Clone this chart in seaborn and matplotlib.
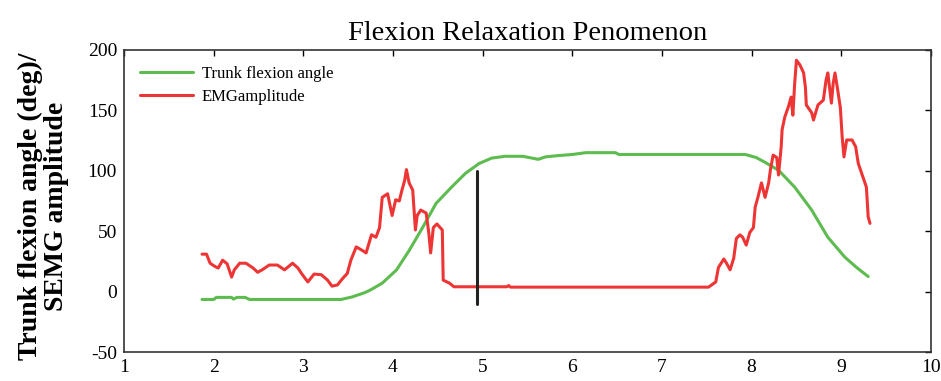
import matplotlib
matplotlib.use("Agg")
import matplotlib.pyplot as plt
import seaborn as sns
import pandas as pd

# trunk flexion angle (green)
angle_t = [1.87, 2.00, 2.03, 2.20, 2.22, 2.26, 2.35, 2.40, 3.00, 3.42, 3.54, 3.68, 3.74,
           3.88, 4.04, 4.18, 4.33, 4.48, 4.66, 4.81, 4.96, 5.10, 5.25, 5.45, 5.55, 5.62,
           5.70, 5.83, 6.00, 6.15, 6.48, 6.52, 7.00, 7.93, 8.05, 8.15, 8.30, 8.48, 8.67,
           8.85, 9.04, 9.17, 9.30]
angle_v = [-6.5, -6.5, -4.8, -4.8, -6.2, -4.8, -4.8, -6.5, -6.5, -6.5, -4.5, -1, 1,
           7, 18, 34, 53, 73, 87, 98, 106, 110.5, 112, 112, 110.5, 109.5,
           111.5, 112.5, 113.5, 115, 115, 113.5, 113.5, 113.5, 111, 107, 100.5, 86.5, 67.5,
           45, 28.5, 20, 12.5]

# EMG amplitude (red)
emg_t = [1.87, 1.92, 1.96, 2.01, 2.05, 2.10, 2.15, 2.20, 2.23, 2.29, 2.36, 2.44, 2.49,
         2.54, 2.62, 2.71, 2.79, 2.88, 2.94, 2.98, 3.05, 3.12, 3.20, 3.27, 3.32, 3.38,
         3.44, 3.49, 3.53, 3.59, 3.66, 3.70, 3.76, 3.81, 3.85, 3.88, 3.94, 3.99, 4.03,
         4.07, 4.10, 4.13, 4.15, 4.18, 4.22, 4.25, 4.27, 4.31, 4.37, 4.40, 4.42, 4.45,
         4.49, 4.55, 4.56, 4.63, 4.68, 5.27, 5.29, 5.31, 7.52, 7.60, 7.63, 7.69, 7.72,
         7.76, 7.80, 7.83, 7.87, 7.90, 7.94, 7.98, 8.02, 8.04, 8.07, 8.11, 8.15, 8.19,
         8.21, 8.24, 8.28, 8.30, 8.33, 8.34, 8.37, 8.41, 8.44, 8.46, 8.48, 8.50, 8.54,
         8.58, 8.60, 8.61, 8.67, 8.69, 8.74, 8.80, 8.83, 8.85, 8.89, 8.91, 8.93, 8.96,
         8.99, 9.01, 9.03, 9.06, 9.12, 9.16, 9.19, 9.28, 9.30, 9.32]
emg_v = [31, 31, 23.5, 21, 19.5, 26, 23, 12, 18, 23.5, 23.5, 19.5, 16,
         18, 22, 22, 18, 23.5, 19.5, 15, 8, 14.5, 14, 9.5, 4.5, 5.5,
         11, 15, 26, 37, 34, 32, 47, 45, 53, 78, 81, 63, 76,
         75, 84, 92, 101, 90, 84, 51, 63, 67.5, 65, 48, 32, 53,
         56, 51, 9.5, 7, 4, 4, 5, 3.7, 3.7, 8, 20, 27, 23.5,
         18, 27.5, 44, 47, 45, 38.5, 49, 53, 70, 78, 90, 78, 90,
         101, 113, 111, 96.5, 120, 134, 144.5, 153, 161, 146, 172, 191.5, 187.5,
         181, 169, 154.5, 148, 142, 154.5, 158.5, 175, 181, 156, 172.5, 181, 167,
         152, 128, 111.5, 125.5, 125.5, 120, 106, 86.5, 62, 56.5]

# marker line at onset of relaxation
marker_t = [4.94, 4.94]
marker_v = [-10, 100]

x_ticks = list(range(1, 11))
y_ticks = [-50, 0, 50, 100, 150, 200]

sns.set_style("white")
plt.rcParams['font.family'] = ['Liberation Serif', 'DejaVu Serif']
plt.rcParams['axes.unicode_minus'] = False
plt.rcParams['text.color'] = 'black'
plt.rcParams['axes.labelcolor'] = 'black'

df_angle = pd.DataFrame({"t": angle_t, "v": angle_v})
df_emg = pd.DataFrame({"t": emg_t, "v": emg_v})
df_mark = pd.DataFrame({"t": marker_t, "v": marker_v})

fig = plt.figure(figsize=(9.41, 3.81), dpi=100)
ax = fig.add_axes([0.1318, 0.0761, 0.8575, 0.7927])

sns.lineplot(data=df_angle, x="t", y="v", ax=ax, color="#5dbb4f", linewidth=2.2,
             estimator=None, sort=False, label="Trunk flexion angle")
sns.lineplot(data=df_emg, x="t", y="v", ax=ax, color="#ee3535", linewidth=2.2,
             estimator=None, sort=False, label="EMGamplitude")
sns.lineplot(data=df_mark, x="t", y="v", ax=ax, color="#222222", linewidth=2.2,
             estimator=None, sort=False, legend=False)

ax.set_xlim(1, 10)
ax.set_ylim(-50, 200)
ax.set_xticks(x_ticks)
ax.set_yticks(y_ticks)
ax.tick_params(direction="in", top=True, right=True, length=4, width=1,
               labelsize=14, colors="black", pad=5)
for s in ax.spines.values():
    s.set_visible(True)
    s.set_color("#333333")
    s.set_linewidth(1.2)

ax.set_xlabel("")
ax.set_ylabel("Trunk flexion angle (deg)/\nSEMG amplitude", fontsize=20,
              fontweight="bold", linespacing=1.08)
ax.yaxis.set_label_coords(-0.068, 0.483)
ax.set_title("Flexion Relaxation Penomenon", fontsize=20.5, pad=7)

ax.legend(loc="upper left", bbox_to_anchor=(0.0, 1.0), frameon=False, fontsize=12,
          handlelength=3.2, handletextpad=0.5, labelspacing=0.45, borderaxespad=0.55)

fig.savefig("out.png", dpi=100)
